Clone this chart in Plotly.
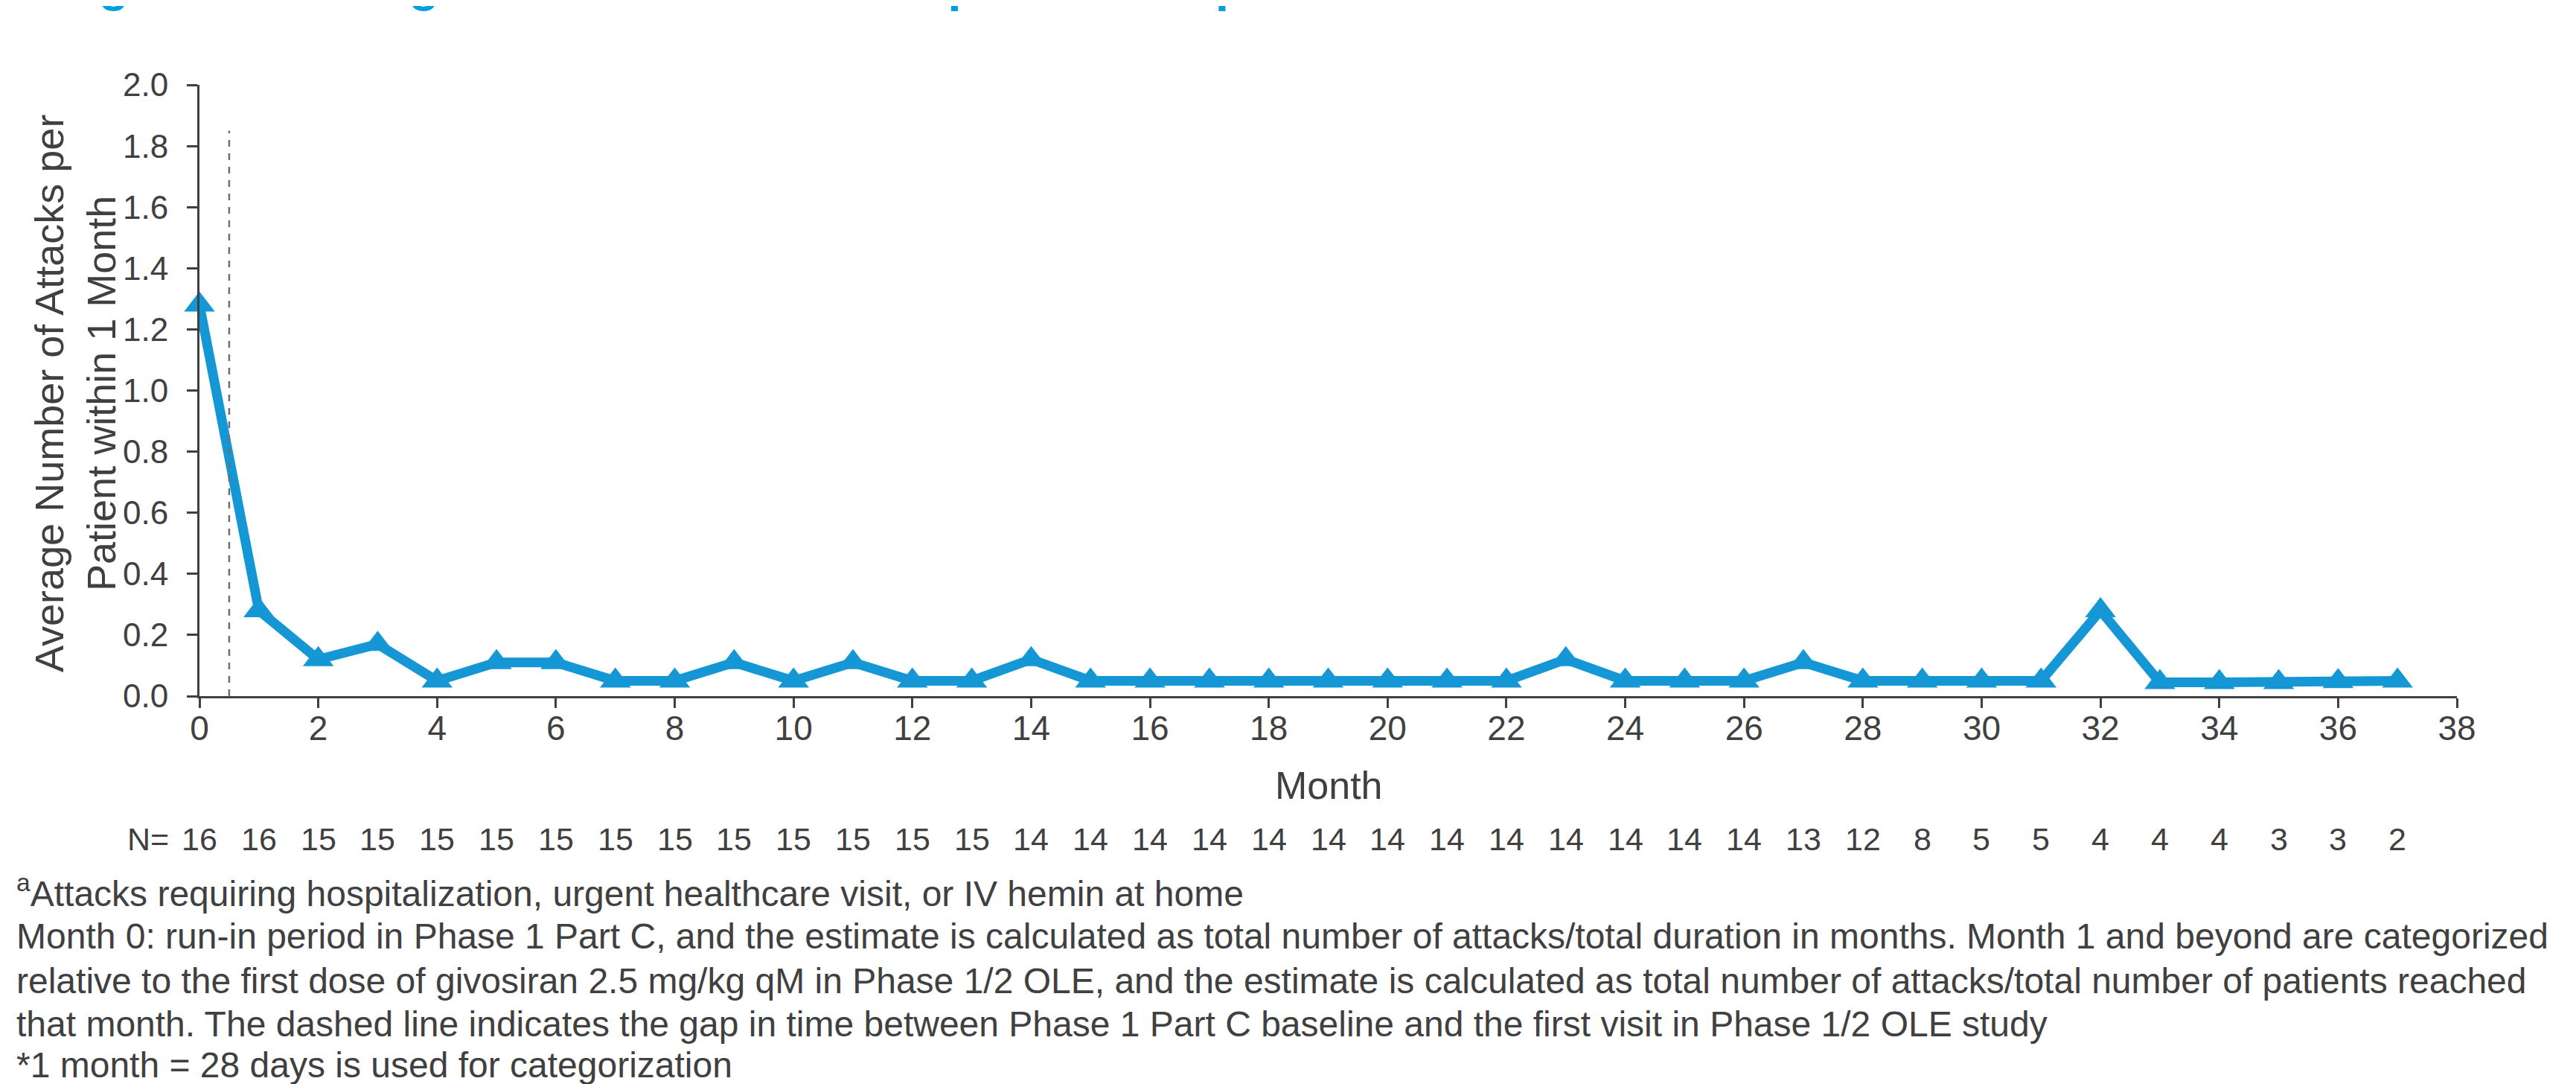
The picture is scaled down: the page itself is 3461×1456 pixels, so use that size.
import plotly.graph_objects as go

months = list(range(38))
attacks = [1.28, 0.28, 0.12, 0.17, 0.05, 0.11, 0.11, 0.05, 0.05, 0.11,
           0.05, 0.11, 0.05, 0.05, 0.12, 0.05, 0.05, 0.05, 0.05, 0.05,
           0.05, 0.05, 0.05, 0.12, 0.05, 0.05, 0.05, 0.11, 0.05, 0.05,
           0.05, 0.05, 0.28, 0.045, 0.045, 0.045, 0.048, 0.05]
n_patients = [16, 16, 15, 15, 15, 15, 15, 15, 15, 15, 15, 15, 15, 15,
              14, 14, 14, 14, 14, 14, 14, 14, 14, 14, 14, 14, 14,
              13, 12, 8, 5, 5, 4, 4, 4, 3, 3, 2]
x_ticks = list(range(0, 39, 2))
y_ticks = [round(0.2 * i, 1) for i in range(11)]
gap_x = 0.5
gap_top = 1.85

title_text = "Figure 2: Average Number of Attacks<sup>a</sup> per Patient per Month*"
y_title = "Average Number of Attacks per<br>Patient within 1 Month"
x_title = "Month"
footnotes = [
    "<sup>a</sup>Attacks requiring hospitalization, urgent healthcare visit, or IV hemin at home",
    "Month 0: run-in period in Phase 1 Part C, and the estimate is calculated as total number of attacks/total duration in months. Month 1 and beyond are categorized",
    "relative to the first dose of givosiran 2.5 mg/kg qM in Phase 1/2 OLE, and the estimate is calculated as total number of attacks/total number of patients reached",
    "that month. The dashed line indicates the gap in time between Phase 1 Part C baseline and the first visit in Phase 1/2 OLE study",
    "*1 month = 28 days is used for categorization",
]

W, H = 3461, 1456
L, R, T, B = 260, 168, 106, 529
PW, PH = W - L - R, H - T - B

def px_x(p):
    return (p - L) / PW

def px_y(p):
    return (H - B - p) / PH

FONT = "Liberation Sans, Arial, sans-serif"
TXT = "#404040"
BLUE = "#1597D5"

fig = go.Figure()
fig.add_trace(go.Scatter(
    x=months, y=attacks, mode="lines+markers",
    line=dict(color=BLUE, width=13),
    marker=dict(symbol="triangle-up", size=36, color=BLUE),
    cliponaxis=False, showlegend=False,
))

fig.add_shape(type="line", x0=gap_x, x1=gap_x, y0=0, y1=gap_top,
              xref="x", yref="y", line=dict(color="#6f6f6f", width=2.5, dash="dash"))

ann = []
ann.append(dict(text=title_text, x=px_x(64), y=px_y(9), xref="paper", yref="paper",
                xanchor="left", yanchor="bottom", showarrow=False,
                font=dict(family=FONT, size=66, color="#009FDF", weight="bold")))
ann.append(dict(text=y_title, x=px_x(93), y=px_y(521), xref="paper", yref="paper",
                xanchor="center", yanchor="middle", textangle=-90, showarrow=False,
                font=dict(family=FONT, size=54, color=TXT)))
ann.append(dict(text=x_title, x=px_x(1777), y=px_y(1047), xref="paper", yref="paper",
                xanchor="center", yanchor="middle", showarrow=False,
                font=dict(family=FONT, size=52, color=TXT)))
ann.append(dict(text="N=", x=px_x(221), y=px_y(1119), xref="paper", yref="paper",
                xanchor="right", yanchor="middle", showarrow=False,
                font=dict(family=FONT, size=43, color=TXT)))
for m, n in zip(months, n_patients):
    ann.append(dict(text=str(n), x=m, y=px_y(1119), xref="x", yref="paper",
                    xanchor="center", yanchor="middle", showarrow=False,
                    font=dict(family=FONT, size=43, color=TXT)))
for i, line in enumerate(footnotes):
    ypix = [1189, 1249, 1309, 1367, 1422][i]
    ann.append(dict(text=line, x=px_x(12), y=px_y(ypix), xref="paper", yref="paper",
                    xanchor="left", yanchor="middle", showarrow=False,
                    font=dict(family=FONT, size=48, color=TXT)))

fig.update_layout(
    width=W, height=H,
    margin=dict(l=L, r=R, t=T, b=B, pad=0),
    paper_bgcolor="white", plot_bgcolor="white",
    annotations=ann,
    xaxis=dict(range=[0, 38], tickvals=x_ticks, showgrid=False, zeroline=False,
               showline=True, linecolor=TXT, linewidth=3,
               ticks="outside", ticklen=13, tickwidth=3, tickcolor=TXT,
               ticklabelstandoff=-12,
               tickfont=dict(family=FONT, size=46, color=TXT)),
    yaxis=dict(range=[0, 2.0], tickvals=y_ticks, tickformat=".1f", showgrid=False,
               zeroline=False, showline=True, linecolor=TXT, linewidth=3,
               ticks="outside", ticklen=14, tickwidth=3, tickcolor=TXT,
               ticklabelstandoff=16,
               tickfont=dict(family=FONT, size=44, color=TXT)),
)

fig.write_html("out.html")
